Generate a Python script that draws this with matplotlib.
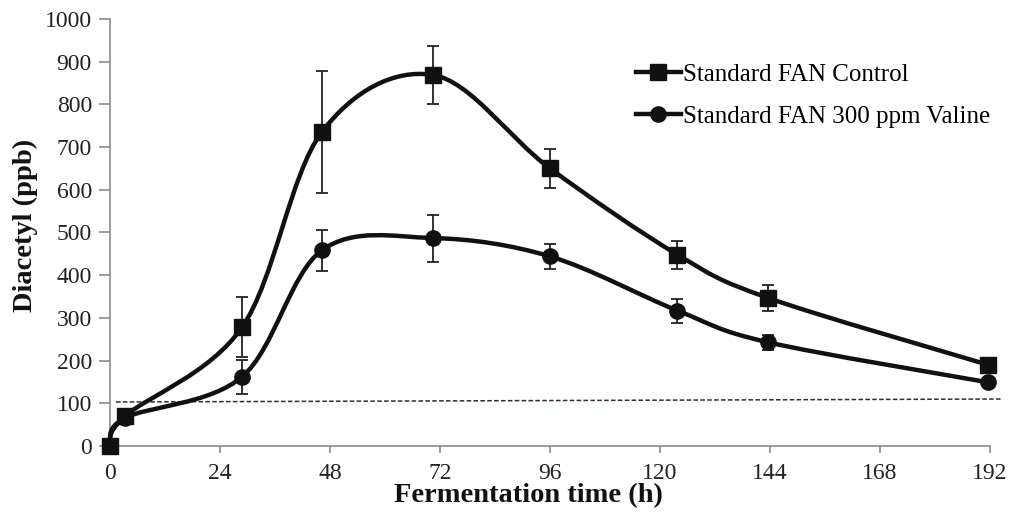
import numpy as np
import matplotlib.pyplot as plt
from matplotlib.path import Path
from matplotlib.patches import PathPatch

plt.rcParams["font.family"] = ["Liberation Serif", "DejaVu Serif"]

# diacetyl over fermentation time, two treatments
time_h = [0, 3.3, 28.8, 46.2, 70.4, 96, 123.8, 143.5, 191.6]
control = [0, 70, 278, 735, 869, 650, 448, 347, 190]
control_err = [0, 0, 70, 143, 68, 45, 33, 30, 0]
valine = [0, 66, 162, 458, 487, 444, 317, 243, 149]
valine_err = [0, 0, 40, 48, 55, 30, 28, 18, 0]

# threshold guide line (ppb)
thresh_t = [1.3, 194.4]
thresh_v = [103, 110]

xticks = [0, 24, 48, 72, 96, 120, 144, 168, 192]
yticks = list(range(0, 1001, 100))


def smooth_path(x, y):
    # bezier through the points, the way spreadsheet "smoothed line" does it
    p = np.column_stack([x, y]).astype(float)
    verts = [p[0]]
    codes = [Path.MOVETO]
    n = len(p)
    for i in range(n - 1):
        p0 = p[i - 1] if i > 0 else p[i]
        p3 = p[i + 2] if i + 2 < n else p[i + 1]
        c1 = p[i] + (p[i + 1] - p0) / 6
        c2 = p[i + 1] - (p3 - p[i]) / 6
        verts += [c1, c2, p[i + 1]]
        codes += [Path.CURVE4] * 3
    return Path(verts, codes)


fig = plt.figure(figsize=(10.14, 5.16), dpi=100)
ax = fig.add_axes([0.1085, 0.1357, 0.8679, 0.8275])

for yv, ye, mk, lab in [(control, control_err, "s", "Standard FAN Control"),
                        (valine, valine_err, "o", "Standard FAN 300 ppm Valine")]:
    ax.add_patch(PathPatch(smooth_path(time_h, yv), fill=False, lw=3.2,
                           ec="#111111", clip_on=False, zorder=3))
    ax.errorbar(time_h[2:-1], yv[2:-1], yerr=ye[2:-1], fmt="none",
                ecolor="#222222", elinewidth=1.3, capsize=4.5, capthick=1.3,
                zorder=2)
    ax.plot(time_h, yv, ls="none", marker=mk, ms=11, color="#111111",
            clip_on=False, zorder=4)
    ax.plot([], [], ls="-", lw=3.2, marker=mk, ms=11, color="#111111",
            label=lab)

ax.plot(thresh_t, thresh_v, ls=(0, (3, 1.5)), lw=1.1, color="#3a2a2a",
        clip_on=False, zorder=1)

ax.set_xlim(0, 192)
ax.set_ylim(0, 1000)
ax.set_xticks(xticks)
ax.set_yticks(yticks)
for s in ["top", "right"]:
    ax.spines[s].set_visible(False)
for s in ["left", "bottom"]:
    ax.spines[s].set_color("#8a8a8a")
    ax.spines[s].set_linewidth(1.2)
ax.tick_params(axis="both", colors="#8a8a8a", width=1.2, labelsize=17,
               labelcolor="#222222")
ax.tick_params(axis="y", length=8, pad=5)
ax.tick_params(axis="x", length=5, pad=7)

fig.text(528 / 1014, 1 - 496 / 516, "Fermentation time (h)", ha="center",
         va="center", fontsize=20.5, fontweight="bold", color="#111111")
fig.text(25 / 1014, 1 - 225 / 516, "Diacetyl (ppb)", ha="center",
         va="center", rotation=90, fontsize=20.5, fontweight="bold",
         color="#111111")

ax.legend(loc="upper left", bbox_to_anchor=(0.572, 0.948), frameon=False,
          fontsize=18, handlelength=1.8, handletextpad=0.1,
          labelspacing=0.78)

fig.savefig("out.png", dpi=100)
